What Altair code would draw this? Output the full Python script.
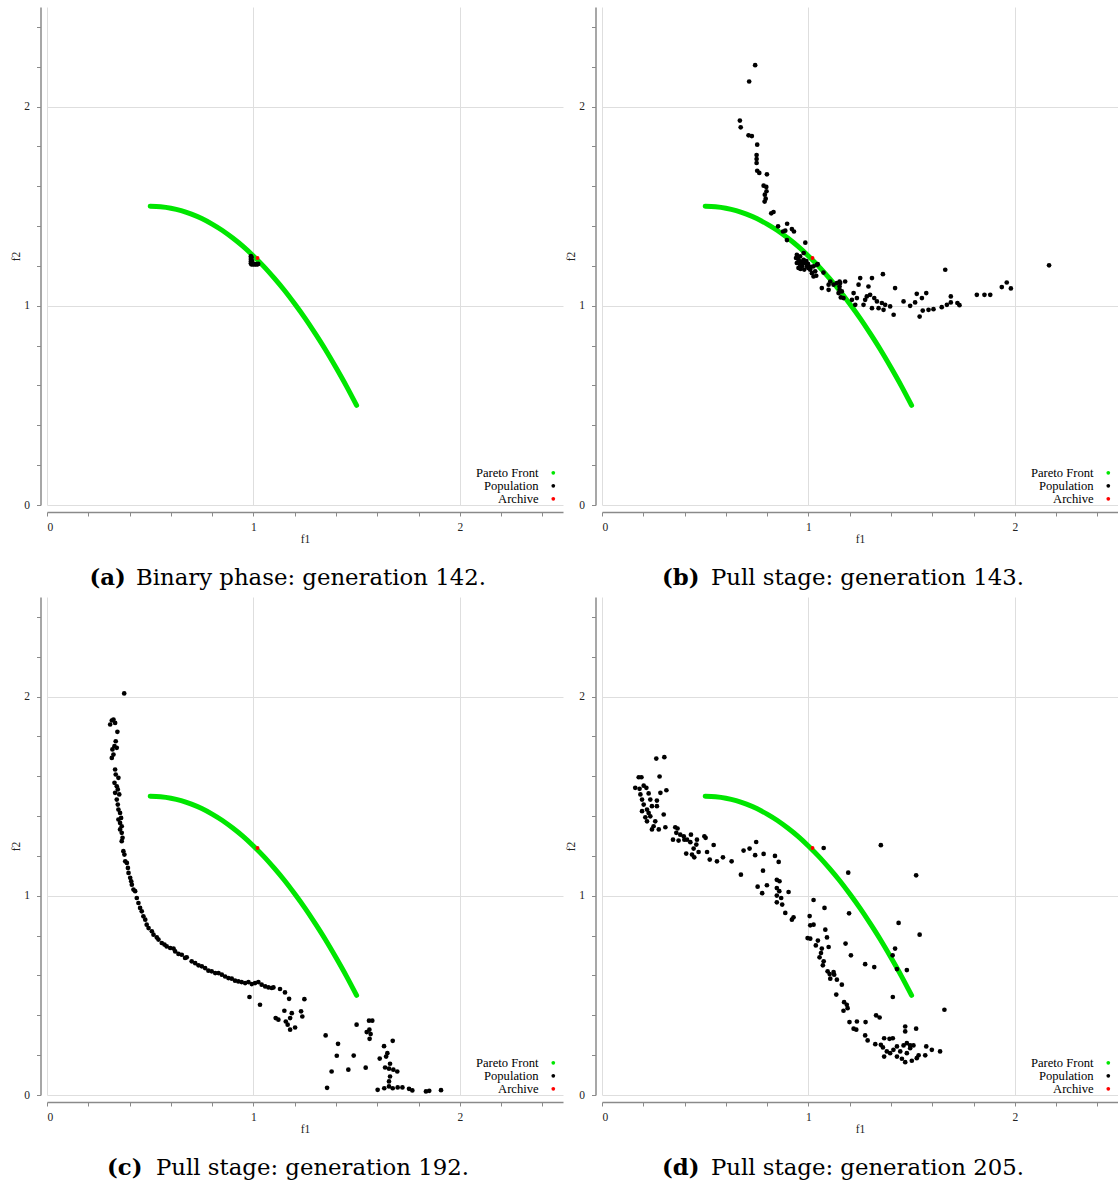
import altair as alt
import pandas as pd

# Pareto front samples (f1, f2)
FRONT_F1 = [0.50, 0.55, 0.60, 0.65, 0.70, 0.75, 0.80, 0.85, 0.90, 0.95, 1.00,
            1.05, 1.10, 1.15, 1.20, 1.25, 1.30, 1.35, 1.40, 1.45, 1.50]
FRONT_F2 = [1.500, 1.497, 1.490, 1.478, 1.460, 1.438, 1.410, 1.378, 1.340, 1.298, 1.250,
            1.198, 1.140, 1.078, 1.010, 0.938, 0.860, 0.778, 0.690, 0.598, 0.500]

# Archive member (same in every generation shown)
ARCHIVE_F1 = [1.02]
ARCHIVE_F2 = [1.24]

# Population, generation 142 (binary phase)
POP_A = [(0.988, 1.249), (0.988, 1.240), (0.988, 1.231), (0.988, 1.222), (0.988, 1.213),
         (0.990, 1.208), (0.995, 1.209), (1.000, 1.208), (1.005, 1.209), (1.010, 1.208),
         (1.015, 1.209), (1.020, 1.208), (1.023, 1.210), (0.992, 1.218), (0.991, 1.244),
         (0.993, 1.226), (0.997, 1.213)]

# Population, generation 143 (pull stage)
POP_B = [(0.742, 2.208), (0.713, 2.126), (0.668, 1.930), (0.672, 1.896), (0.710, 1.856),
         (0.726, 1.852), (0.752, 1.809), (0.749, 1.757), (0.749, 1.737), (0.749, 1.717),
         (0.752, 1.678), (0.762, 1.667), (0.799, 1.660), (0.783, 1.603), (0.796, 1.597),
         (0.797, 1.575), (0.789, 1.558), (0.793, 1.538), (0.788, 1.523), (0.820, 1.464),
         (0.831, 1.471), (0.853, 1.399), (0.877, 1.373), (0.888, 1.377), (0.897, 1.412),
         (0.920, 1.385), (0.930, 1.373), (0.896, 1.330), (0.985, 1.317),
         (0.944, 1.256), (0.960, 1.248), (0.977, 1.265), (0.944, 1.215), (0.960, 1.206),
         (0.977, 1.231), (0.993, 1.198), (0.969, 1.198), (0.985, 1.215), (1.001, 1.189),
         (1.009, 1.181), (1.025, 1.198), (1.033, 1.173), (1.041, 1.206), (1.025, 1.147),
         (1.038, 1.151), (1.017, 1.164), (0.950, 1.235), (0.955, 1.225), (0.965, 1.222),
         (0.972, 1.210), (0.952, 1.190), (0.990, 1.225), (0.998, 1.210), (1.012, 1.195),
         (0.940, 1.240), (0.962, 1.185), (0.980, 1.182),
         (1.045, 1.209), (1.073, 1.167), (1.065, 1.089), (1.098, 1.106), (1.106, 1.122),
         (1.122, 1.106), (1.138, 1.114), (1.178, 1.122), (1.162, 1.072), (1.170, 1.039),
         (1.098, 1.080), (1.146, 1.064), (1.157, 1.042), (1.154, 1.114), (1.151, 1.097),
         (1.151, 1.080), (1.151, 1.122), (1.211, 1.030), (1.219, 1.064), (1.235, 1.039),
         (1.251, 1.139), (1.243, 1.106), (1.267, 1.005), (1.227, 1.005), (1.275, 1.030),
         (1.283, 1.047), (1.291, 1.097), (1.299, 1.055), (1.308, 1.139), (1.319, 1.039),
         (1.332, 1.022), (1.340, 0.988), (1.308, 0.988), (1.356, 1.014), (1.364, 0.980),
         (1.361, 1.159), (1.372, 1.005), (1.396, 0.997), (1.413, 0.955), (1.420, 1.089),
         (1.461, 1.022), (1.493, 1.000), (1.517, 1.017), (1.525, 1.060), (1.550, 1.039),
         (1.571, 1.064), (1.539, 0.946), (1.554, 0.976), (1.582, 0.980), (1.606, 0.983),
         (1.646, 0.993), (1.663, 1.181), (1.671, 1.005), (1.690, 1.047), (1.690, 1.017),
         (1.722, 1.014), (1.732, 1.003), (1.816, 1.055), (1.853, 1.055), (1.881, 1.055),
         (1.937, 1.094), (1.961, 1.117), (1.981, 1.087), (2.166, 1.203)]

# Population, generation 192 (pull stage)
POP_C = [(0.374, 2.016), (0.306, 1.860), (0.314, 1.880), (0.322, 1.885), (0.330, 1.868),
         (0.341, 1.823), (0.333, 1.776), (0.327, 1.751), (0.338, 1.743), (0.317, 1.735),
         (0.322, 1.709), (0.314, 1.692), (0.330, 1.634), (0.333, 1.609), (0.346, 1.592),
         (0.327, 1.567), (0.338, 1.550), (0.343, 1.534), (0.330, 1.517), (0.350, 1.509),
         (0.338, 1.483), (0.343, 1.458), (0.346, 1.433), (0.354, 1.416), (0.359, 1.391),
         (0.346, 1.383), (0.354, 1.366), (0.362, 1.349), (0.354, 1.333), (0.362, 1.316),
         (0.366, 1.291), (0.362, 1.274), (0.370, 1.224), (0.375, 1.207), (0.379, 1.173),
         (0.387, 1.165), (0.392, 1.140), (0.395, 1.115), (0.403, 1.090), (0.408, 1.073),
         (0.411, 1.056), (0.419, 1.031), (0.427, 1.023), (0.435, 0.989), (0.443, 0.964),
         (0.451, 0.939), (0.459, 0.922), (0.467, 0.897), (0.476, 0.880), (0.483, 0.855),
         (0.492, 0.838), (0.508, 0.822), (0.516, 0.805), (0.532, 0.791), (0.540, 0.780),
         (0.556, 0.763), (0.569, 0.755), (0.580, 0.746), (0.597, 0.738), (0.613, 0.735),
         (0.621, 0.721), (0.637, 0.708), (0.653, 0.704), (0.669, 0.688), (0.677, 0.691),
         (0.701, 0.671), (0.718, 0.662), (0.734, 0.651), (0.750, 0.646), (0.766, 0.637),
         (0.782, 0.624), (0.798, 0.621), (0.815, 0.612), (0.831, 0.612), (0.847, 0.604),
         (0.863, 0.595), (0.879, 0.587), (0.895, 0.584), (0.911, 0.574), (0.927, 0.570),
         (0.943, 0.567), (0.960, 0.562), (0.976, 0.567), (0.992, 0.557), (1.008, 0.562),
         (1.024, 0.567), (1.040, 0.554), (1.057, 0.545), (1.073, 0.540), (1.089, 0.537),
         (1.097, 0.540), (1.129, 0.532), (1.153, 0.515), (1.173, 0.483), (1.247, 0.481),
         (0.981, 0.492), (1.032, 0.453), (1.108, 0.386), (1.121, 0.378), (1.150, 0.423),
         (1.157, 0.369), (1.166, 0.353), (1.178, 0.386), (1.186, 0.411), (1.178, 0.328),
         (1.202, 0.339), (1.231, 0.420), (1.237, 0.394),
         (1.500, 0.353), (1.560, 0.373), (1.576, 0.373), (1.549, 0.316), (1.562, 0.328),
         (1.568, 0.306), (1.563, 0.282), (1.350, 0.299), (1.410, 0.257), (1.404, 0.197),
         (1.486, 0.198), (1.379, 0.118), (1.460, 0.127), (1.544, 0.137), (1.357, 0.036),
         (1.633, 0.245), (1.675, 0.272), (1.649, 0.210), (1.643, 0.193), (1.612, 0.183),
         (1.662, 0.157), (1.638, 0.138), (1.657, 0.132), (1.678, 0.127), (1.697, 0.118),
         (1.662, 0.093), (1.657, 0.068), (1.602, 0.026), (1.634, 0.034), (1.657, 0.043),
         (1.675, 0.034), (1.699, 0.038), (1.722, 0.038), (1.754, 0.031), (1.770, 0.023),
         (1.836, 0.018), (1.852, 0.021), (1.909, 0.024)]

# Population, generation 205 (pull stage)
POP_D = [(0.263, 1.689), (0.302, 1.696), (0.178, 1.595), (0.191, 1.595), (0.279, 1.599),
         (0.161, 1.542), (0.182, 1.537), (0.202, 1.553), (0.215, 1.542), (0.312, 1.530),
         (0.226, 1.514), (0.186, 1.509), (0.194, 1.483), (0.234, 1.483), (0.283, 1.517),
         (0.266, 1.478), (0.202, 1.458), (0.242, 1.450), (0.218, 1.433), (0.194, 1.425),
         (0.226, 1.416), (0.299, 1.408), (0.266, 1.450), (0.234, 1.399), (0.258, 1.374),
         (0.250, 1.349), (0.218, 1.374), (0.275, 1.333), (0.307, 1.344), (0.242, 1.333),
         (0.210, 1.394), (0.355, 1.344), (0.366, 1.338), (0.360, 1.316), (0.379, 1.307),
         (0.396, 1.299), (0.431, 1.307), (0.412, 1.282), (0.460, 1.282), (0.496, 1.299),
         (0.502, 1.291), (0.344, 1.282), (0.371, 1.277), (0.399, 1.282), (0.428, 1.269),
         (0.457, 1.257), (0.444, 1.237), (0.408, 1.212), (0.436, 1.207), (0.447, 1.193),
         (0.468, 1.220), (0.509, 1.220), (0.541, 1.255), (0.522, 1.182), (0.557, 1.173),
         (0.586, 1.193), (0.628, 1.173), (0.673, 1.106), (0.686, 1.227), (0.715, 1.237),
         (0.747, 1.270), (0.742, 1.204), (0.783, 1.210), (0.838, 1.200), (0.856, 1.170),
         (0.780, 1.126), (0.754, 1.046), (0.799, 1.053), (0.776, 1.013), (0.847, 1.080),
         (0.860, 1.073), (0.847, 1.039), (0.859, 1.023), (0.847, 1.001), (0.868, 0.989),
         (0.904, 1.019), (0.847, 0.967), (0.873, 0.956), (0.888, 0.914), (0.928, 0.892),
         (0.920, 0.880), (1.006, 0.898), (1.025, 0.855), (1.009, 0.852), (0.996, 0.788),
         (1.009, 0.785), (1.046, 0.775), (1.082, 0.830), (1.090, 0.791), (1.036, 0.751),
         (1.065, 0.735), (1.061, 0.713), (1.098, 0.743), (1.054, 0.691), (1.074, 0.671),
         (1.070, 0.651), (1.093, 0.621), (1.122, 0.617), (1.103, 0.607), (1.125, 0.604),
         (1.106, 0.584), (1.138, 0.579), (1.162, 0.554), (1.135, 0.504), (1.173, 0.466),
         (1.186, 0.453), (1.170, 0.423), (1.190, 0.436), (1.199, 0.366), (1.235, 0.369),
         (1.219, 0.333), (1.232, 0.328), (1.277, 0.366), (1.275, 0.299), (1.287, 0.274),
         (1.328, 0.400), (1.345, 0.389), (1.324, 0.255), (1.351, 0.252), (1.367, 0.285),
         (1.393, 0.282), (1.409, 0.285), (1.361, 0.239), (1.380, 0.219), (1.396, 0.210),
         (1.367, 0.193), (1.429, 0.244), (1.412, 0.227), (1.445, 0.219), (1.461, 0.249),
         (1.477, 0.260), (1.493, 0.249), (1.509, 0.249), (1.477, 0.210), (1.429, 0.193),
         (1.453, 0.182), (1.493, 0.235), (1.525, 0.185), (1.534, 0.199), (1.501, 0.172),
         (1.469, 0.165), (1.571, 0.244), (1.566, 0.199), (1.598, 0.227), (1.638, 0.219),
         (1.469, 0.344), (1.469, 0.319), (1.522, 0.333), (1.409, 0.492), (1.429, 0.632),
         (1.477, 0.627), (1.408, 0.701), (1.420, 0.735), (1.437, 0.864), (1.539, 0.805),
         (1.522, 1.103), (1.351, 1.254), (1.074, 1.240), (1.193, 1.116), (1.025, 0.979),
         (1.078, 0.939), (1.180, 0.760), (1.206, 0.701), (1.275, 0.657), (1.319, 0.642),
         (1.197, 0.912), (1.659, 0.428)]

TAGS = ["(a)", "(b)", "(c)", "(d)"]
CAPTIONS = ["Binary phase: generation 142.", "Pull stage: generation 143.",
            "Pull stage: generation 192.", "Pull stage: generation 205."]

SERIES = ["Pareto Front", "Population", "Archive"]
COLORS = ["#00e600", "#000000", "#ff0000"]

TICKS = [0, 0.2, 0.4, 0.6, 0.8, 1, 1.2, 1.4, 1.6, 1.8, 2, 2.2, 2.4]

PLOT_W, PLOT_H = 516, 498
AXIS_FONT = "Liberation Serif"
CAPTION_FONT = "DejaVu Serif"
CAPTION_SIZE = 22.8

INTEGER_TEST = "abs(datum.value - round(datum.value)) < 1e-6"


def make_axis(title, offset, label_padding, title_padding):
    return alt.Axis(
        title=title, values=TICKS,
        labelExpr=f"{INTEGER_TEST} ? format(datum.value, 'd') : ''",
        grid=True, gridColor="#dedede", gridWidth=1,
        gridOpacity={"condition": {"test": INTEGER_TEST, "value": 1}, "value": 0},
        domainColor="#8a8a8a", domainWidth=1.5,
        tickColor="#8a8a8a", tickSize=4, tickWidth=1,
        labelFont=AXIS_FONT, labelFontSize=11.5, labelColor="#222222",
        labelPadding=label_padding,
        titleFont=AXIS_FONT, titleFontSize=11.5, titleFontWeight="normal",
        titleColor="#222222", titlePadding=title_padding, offset=offset,
    )


def panel(points, tag, caption, tag_x, text_x):
    scale = alt.Scale(domain=[0, 2.5], nice=False, zero=False)
    x = alt.X("f1:Q", scale=scale, axis=make_axis("f1", 7, 5, 1))
    y = alt.Y("f2:Q", scale=scale, axis=make_axis("f2", 6.5, 7, 2.5))
    color_scale = alt.Scale(domain=SERIES, range=COLORS)
    # key entries: text on the left, symbol on the right
    legend = alt.Legend(
        title=None, orient="none", legendX=500, legendY=459.5, padding=0,
        labelAlign="right", labelOffset={"expr": "-21"}, labelFont=AXIS_FONT,
        labelFontSize=12.6, labelColor="#000000", labelLimit=300,
        symbolType="circle", symbolSize=14, symbolStrokeWidth=0, rowPadding=0,
    )

    front_df = pd.DataFrame({"f1": FRONT_F1, "f2": FRONT_F2})
    pop_df = pd.DataFrame(points, columns=["f1", "f2"]).assign(series="Population")
    arch_df = pd.DataFrame({"f1": ARCHIVE_F1, "f2": ARCHIVE_F2, "series": "Archive"})
    cap_df = pd.DataFrame({"tag": [tag], "caption": [caption]})

    front = alt.Chart(front_df).mark_line(
        color=COLORS[0], strokeWidth=5, strokeCap="round", interpolate="monotone"
    ).encode(x=x, y=y)
    pop = alt.Chart(pop_df).mark_circle(size=22, opacity=1).encode(
        x=x, y=y, color=alt.Color("series:N", scale=color_scale, legend=legend))
    arch = alt.Chart(arch_df).mark_circle(size=15, opacity=1).encode(
        x=x, y=y, color=alt.Color("series:N", scale=color_scale, legend=legend))

    tag_text = alt.Chart(cap_df).mark_text(
        align="left", baseline="alphabetic", font=CAPTION_FONT, fontWeight="bold",
        fontSize=CAPTION_SIZE, color="#000000"
    ).encode(x=alt.value(tag_x), y=alt.value(577.5), text="tag:N")
    cap_text = alt.Chart(cap_df).mark_text(
        align="left", baseline="alphabetic", font=CAPTION_FONT,
        fontSize=CAPTION_SIZE, color="#000000"
    ).encode(x=alt.value(text_x), y=alt.value(577.5), text="caption:N")

    return alt.layer(front, pop, arch, tag_text, cap_text).properties(
        width=PLOT_W, height=PLOT_H)


pa = panel(POP_A, TAGS[0], CAPTIONS[0], 42.5, 89)
pb = panel(POP_B, TAGS[1], CAPTIONS[1], 60, 109)
pc = panel(POP_C, TAGS[2], CAPTIONS[2], 60, 109)
pd_ = panel(POP_D, TAGS[3], CAPTIONS[3], 60, 109)

row1 = alt.hconcat(pa, pb, spacing=2).resolve_scale(color="independent")
row2 = alt.hconcat(pc, pd_, spacing=2).resolve_scale(color="independent")

chart = alt.vconcat(row1, row2, spacing=7).resolve_scale(color="independent").properties(
    padding={"left": 10, "top": 7, "right": 0, "bottom": 0},
    background="white",
).configure_view(stroke=None)

chart.save("out.html", embed_options={"renderer": "svg", "actions": False})
